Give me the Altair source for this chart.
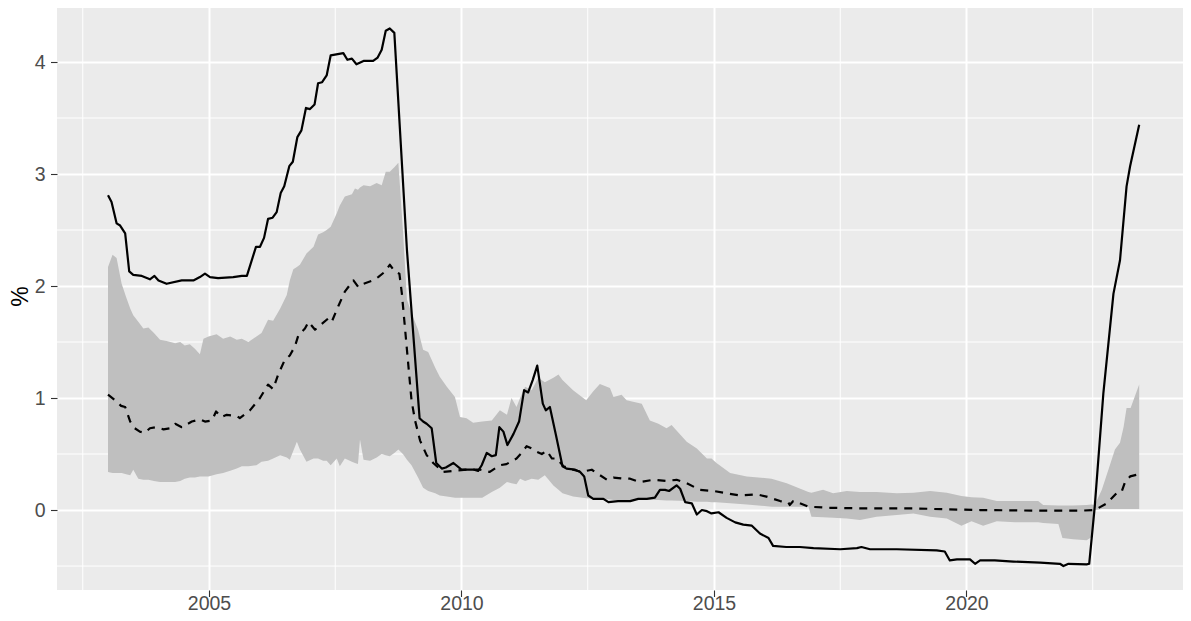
import altair as alt
import pandas as pd

# solid line: overnight rate (%)
solid_year = [
    2003.00, 2003.07, 2003.17, 2003.24, 2003.34, 2003.42, 2003.50, 2003.67, 2003.83, 2003.92,
    2004.00, 2004.16, 2004.46, 2004.69, 2004.82, 2004.92, 2005.02, 2005.18, 2005.48, 2005.65,
    2005.75, 2005.93, 2006.01, 2006.09, 2006.17, 2006.26, 2006.34, 2006.42, 2006.49, 2006.59,
    2006.66, 2006.75, 2006.83, 2006.92, 2007.00, 2007.09, 2007.16, 2007.24, 2007.33, 2007.41,
    2007.66, 2007.74, 2007.83, 2007.92, 2008.06, 2008.25, 2008.34, 2008.42, 2008.50, 2008.58,
    2008.67, 2008.92, 2009.17, 2009.24, 2009.31, 2009.41, 2009.50, 2009.61, 2009.69, 2009.84,
    2010.00, 2010.17, 2010.25, 2010.33, 2010.40, 2010.50, 2010.60, 2010.68, 2010.75, 2010.83,
    2010.91, 2011.03, 2011.14, 2011.24, 2011.32, 2011.41, 2011.50, 2011.61, 2011.67, 2011.75,
    2011.87, 2012.00, 2012.08, 2012.25, 2012.35, 2012.43, 2012.51, 2012.61, 2012.81, 2012.91,
    2013.10, 2013.34, 2013.50, 2013.67, 2013.83, 2013.93, 2014.03, 2014.11, 2014.26, 2014.33,
    2014.43, 2014.56, 2014.66, 2014.76, 2014.86, 2014.95, 2015.09, 2015.25, 2015.42, 2015.58,
    2015.75, 2015.91, 2016.08, 2016.17, 2016.43, 2016.70, 2016.97, 2017.50, 2017.83, 2017.92,
    2018.09, 2018.62, 2019.41, 2019.57, 2019.67, 2019.81, 2020.07, 2020.17, 2020.27, 2020.56,
    2020.93, 2021.46, 2021.85, 2021.92, 2022.02, 2022.38, 2022.43, 2022.54, 2022.71, 2022.91,
    2023.04, 2023.17, 2023.24, 2023.42,
]
solid_value = [
    2.81, 2.75, 2.56, 2.54, 2.47, 2.13, 2.10, 2.09, 2.06, 2.09,
    2.05, 2.02, 2.05, 2.05, 2.08, 2.11, 2.08, 2.07, 2.08, 2.09,
    2.09, 2.35, 2.35, 2.43, 2.60, 2.61, 2.66, 2.83, 2.89, 3.07,
    3.11, 3.33, 3.39, 3.59, 3.58, 3.62, 3.81, 3.82, 3.88, 4.06,
    4.08, 4.02, 4.03, 3.98, 4.01, 4.01, 4.04, 4.11, 4.28, 4.30,
    4.26, 2.32, 0.82, 0.79, 0.77, 0.73, 0.42, 0.37, 0.38, 0.42,
    0.36, 0.36, 0.36, 0.35, 0.40, 0.51, 0.48, 0.49, 0.74, 0.70,
    0.58, 0.68, 0.79, 1.07, 1.05, 1.16, 1.29, 0.95, 0.89, 0.92,
    0.67, 0.39, 0.37, 0.36, 0.34, 0.30, 0.13, 0.10, 0.10, 0.07,
    0.08, 0.08, 0.10, 0.10, 0.11, 0.18, 0.18, 0.17, 0.22, 0.19,
    0.07, 0.06, -0.04, 0.00, -0.01, -0.03, -0.02, -0.07, -0.11, -0.13,
    -0.14, -0.21, -0.25, -0.32, -0.33, -0.33, -0.34, -0.35, -0.34, -0.33,
    -0.35, -0.35, -0.36, -0.37, -0.45, -0.44, -0.44, -0.48, -0.45, -0.45,
    -0.46, -0.47, -0.48, -0.50, -0.48, -0.485, -0.48, 0.03, 1.04, 1.93,
    2.23, 2.89, 3.07, 3.44,
]

# dashed line: median of the distribution
median_year = [
    2003.00, 2003.14, 2003.26, 2003.34, 2003.44, 2003.53, 2003.63, 2003.73, 2003.83, 2003.95,
    2004.10, 2004.23, 2004.33, 2004.46, 2004.66, 2004.82, 2004.92, 2005.06, 2005.14, 2005.25,
    2005.35, 2005.55, 2005.61, 2005.81, 2006.01, 2006.17, 2006.27, 2006.37, 2006.50, 2006.60,
    2006.70, 2006.77, 2006.90, 2006.97, 2007.10, 2007.23, 2007.36, 2007.43, 2007.56, 2007.69,
    2007.79, 2007.86, 2007.96, 2008.06, 2008.25, 2008.35, 2008.49, 2008.58, 2008.68, 2008.77,
    2008.82, 2008.92, 2009.01, 2009.08, 2009.18, 2009.31, 2009.44, 2009.64, 2009.84, 2010.10,
    2010.37, 2010.56, 2010.76, 2010.89, 2011.09, 2011.19, 2011.29, 2011.39, 2011.49, 2011.59,
    2011.69, 2011.79, 2011.89, 2012.02, 2012.21, 2012.38, 2012.58, 2012.68, 2012.88, 2013.01,
    2013.20, 2013.34, 2013.53, 2013.80, 2014.06, 2014.26, 2014.46, 2014.72, 2014.99, 2015.25,
    2015.51, 2015.85, 2016.04, 2016.31, 2016.47, 2016.50, 2016.57, 2016.70, 2016.87, 2017.30,
    2017.96, 2018.95, 2019.61, 2020.27, 2021.59, 2022.25, 2022.54, 2022.78, 2022.97, 2023.07,
    2023.14, 2023.24, 2023.42,
]
median_value = [
    1.03, 0.98, 0.93, 0.92, 0.79, 0.73, 0.70, 0.69, 0.73, 0.74,
    0.72, 0.73, 0.77, 0.74, 0.79, 0.81, 0.79, 0.80, 0.88, 0.83,
    0.85, 0.84, 0.82, 0.89, 1.00, 1.12, 1.08, 1.21, 1.34, 1.38,
    1.46, 1.56, 1.62, 1.68, 1.61, 1.66, 1.71, 1.68, 1.82, 1.95,
    2.01, 2.05, 1.99, 2.02, 2.05, 2.08, 2.13, 2.19, 2.13, 2.11,
    1.93, 1.43, 0.98, 0.80, 0.62, 0.49, 0.42, 0.34, 0.35, 0.36,
    0.36, 0.34, 0.40, 0.41, 0.46, 0.51, 0.57, 0.55, 0.52, 0.50,
    0.53, 0.46, 0.46, 0.39, 0.36, 0.34, 0.36, 0.33, 0.27, 0.29,
    0.28, 0.28, 0.25, 0.27, 0.26, 0.27, 0.24, 0.18, 0.17, 0.15,
    0.13, 0.14, 0.12, 0.08, 0.07, 0.045, 0.08, 0.06, 0.03, 0.02,
    0.015, 0.015, 0.006, 0.0, -0.006, -0.006, 0.0, 0.06, 0.15, 0.16,
    0.25, 0.30, 0.32,
]

# grey band: range of the distribution
band_year = [
    2003.00, 2003.09, 2003.17, 2003.27, 2003.36, 2003.44, 2003.50, 2003.60, 2003.70, 2003.80,
    2003.91, 2004.03, 2004.16, 2004.33, 2004.43, 2004.52, 2004.62, 2004.72, 2004.82, 2004.89,
    2004.99, 2005.15, 2005.28, 2005.42, 2005.55, 2005.65, 2005.78, 2005.94, 2006.04, 2006.17,
    2006.27, 2006.41, 2006.54, 2006.60, 2006.67, 2006.74, 2006.80, 2006.93, 2007.07, 2007.16,
    2007.26, 2007.33, 2007.41, 2007.53, 2007.59, 2007.69, 2007.83, 2007.89, 2007.95, 2007.99,
    2008.06, 2008.19, 2008.32, 2008.42, 2008.50, 2008.58, 2008.67, 2008.75, 2008.84, 2008.92,
    2009.01, 2009.14, 2009.24, 2009.34, 2009.48, 2009.57, 2009.71, 2009.87, 2009.97, 2010.10,
    2010.23, 2010.41, 2010.60, 2010.76, 2010.90, 2010.99, 2011.09, 2011.16, 2011.26, 2011.39,
    2011.52, 2011.65, 2011.82, 2011.92, 2012.00, 2012.21, 2012.47, 2012.61, 2012.74, 2012.94,
    2013.01, 2013.17, 2013.27, 2013.57, 2013.73, 2013.90, 2014.06, 2014.16, 2014.46, 2014.66,
    2014.86, 2014.95, 2015.05, 2015.32, 2015.65, 2016.14, 2016.44, 2016.87, 2016.93, 2017.16,
    2017.36, 2017.63, 2017.89, 2018.22, 2018.62, 2018.95, 2019.28, 2019.61, 2019.90, 2020.10,
    2020.33, 2020.60, 2020.96, 2021.42, 2021.52, 2021.82, 2021.90, 2022.11, 2022.38, 2022.48,
    2022.54, 2022.68, 2022.81, 2022.94, 2023.04, 2023.11, 2023.17, 2023.25, 2023.42,
]
band_hi = [
    2.17, 2.28, 2.25, 2.02, 1.90, 1.80, 1.74, 1.68, 1.62, 1.63,
    1.58, 1.52, 1.51, 1.49, 1.50, 1.47, 1.48, 1.44, 1.39, 1.53,
    1.55, 1.57, 1.53, 1.55, 1.52, 1.53, 1.50, 1.55, 1.58, 1.70,
    1.69, 1.80, 1.92, 2.05, 2.15, 2.17, 2.19, 2.29, 2.35, 2.46,
    2.48, 2.50, 2.53, 2.65, 2.72, 2.80, 2.82, 2.87, 2.86, 2.88,
    2.90, 2.89, 2.92, 2.90, 3.02, 3.02, 3.06, 3.10, 2.50, 1.88,
    1.76, 1.61, 1.43, 1.41, 1.27, 1.19, 1.10, 1.01, 0.83, 0.82,
    0.78, 0.79, 0.80, 0.89, 0.85, 1.00, 0.92, 1.00, 1.10, 1.07,
    1.18, 1.14, 1.18, 1.21, 1.16, 1.07, 0.98, 1.06, 1.125, 1.09,
    1.01, 1.03, 0.98, 0.95, 0.80, 0.77, 0.73, 0.76, 0.61, 0.55,
    0.46, 0.46, 0.42, 0.33, 0.30, 0.28, 0.24, 0.16, 0.155, 0.18,
    0.15, 0.17, 0.16, 0.16, 0.15, 0.155, 0.17, 0.155, 0.125, 0.115,
    0.11, 0.08, 0.08, 0.08, 0.045, 0.04, 0.04, 0.04, 0.045, 0.05,
    0.045, 0.18, 0.36, 0.54, 0.60, 0.74, 0.91, 0.91, 1.12,
]
band_lo = [
    0.34, 0.33, 0.33, 0.33, 0.32, 0.31, 0.36, 0.28, 0.27, 0.27,
    0.26, 0.25, 0.25, 0.25, 0.26, 0.28, 0.29, 0.29, 0.30, 0.30,
    0.30, 0.32, 0.33, 0.35, 0.37, 0.39, 0.39, 0.40, 0.43, 0.44,
    0.46, 0.49, 0.47, 0.45, 0.53, 0.61, 0.54, 0.43, 0.46, 0.46,
    0.44, 0.44, 0.40, 0.46, 0.39, 0.46, 0.43, 0.42, 0.41, 0.63,
    0.45, 0.44, 0.47, 0.50, 0.49, 0.48, 0.51, 0.54, 0.50, 0.45,
    0.40, 0.29, 0.20, 0.17, 0.15, 0.13, 0.12, 0.11, 0.11, 0.11,
    0.11, 0.11, 0.16, 0.20, 0.25, 0.24, 0.23, 0.28, 0.26, 0.28,
    0.27, 0.31, 0.22, 0.18, 0.15, 0.12, 0.105, 0.10, 0.10, 0.095,
    0.09, 0.09, 0.09, 0.09, 0.09, 0.09, 0.085, 0.085, 0.08, 0.075,
    0.075, 0.07, 0.07, 0.06, 0.05, 0.03, 0.03, 0.03, -0.06, -0.065,
    -0.07, -0.075, -0.09, -0.06, -0.045, -0.03, -0.06, -0.075, -0.14, -0.10,
    -0.14, -0.10, -0.11, -0.11, -0.115, -0.125, -0.25, -0.26, -0.27, -0.24,
    0.00, 0.01, 0.01, 0.01, 0.01, 0.01, 0.01, 0.01, 0.01,
]

x_ticks = [2005, 2010, 2015, 2020]
y_ticks = [0, 1, 2, 3, 4]
x_minor = [2002.5, 2007.5, 2012.5, 2017.5, 2022.5]
y_minor = [-0.5, 0.5, 1.5, 2.5, 3.5, 4.5]

solid = pd.DataFrame({"year": solid_year, "value": solid_value})
median = pd.DataFrame({"year": median_year, "value": median_value})
band = pd.DataFrame({"year": band_year, "lo": band_lo, "hi": band_hi})

FONT = "Liberation Sans"
x_scale = alt.Scale(domain=[2001.99, 2024.446], nice=False, zero=False)
y_scale = alt.Scale(domain=[-0.714, 4.527], nice=False, zero=False)

# same axis objects on every layer so the layers merge into one axis each
x_axis = alt.Axis(
    values=x_ticks,
    format="d",
    title=None,
    grid=True,
    gridColor="white",
    gridWidth=2,
    domain=False,
    tickColor="#333333",
    tickWidth=1.1,
    tickSize=6.5,
    labelColor="#4D4D4D",
    labelFont=FONT,
    labelFontSize=19.5,
    labelBaseline="alphabetic",
    labelPadding=12.5,
)
y_axis = alt.Axis(
    values=y_ticks,
    format="d",
    title="%",
    titleFont=FONT,
    titleFontSize=23,
    titleFontWeight="normal",
    titleColor="black",
    titleAngle=270,
    titleAlign="center",
    titleBaseline="middle",
    titleX=-37,
    titleY=293,
    grid=True,
    gridColor="white",
    gridWidth=2,
    domain=False,
    tickColor="#333333",
    tickWidth=1.1,
    tickSize=6.5,
    labelColor="#4D4D4D",
    labelFont=FONT,
    labelFontSize=19.5,
    labelPadding=5.5,
)

minor_v = (
    alt.Chart(pd.DataFrame({"year": x_minor}))
    .mark_rule(color="white", strokeWidth=1)
    .encode(x=alt.X("year:Q", scale=x_scale, axis=x_axis))
)
minor_h = (
    alt.Chart(pd.DataFrame({"value": y_minor}))
    .mark_rule(color="white", strokeWidth=1)
    .encode(y=alt.Y("value:Q", scale=y_scale, axis=y_axis))
)

area = (
    alt.Chart(band)
    .mark_area(color="#BFBFBF", opacity=1)
    .encode(
        x=alt.X("year:Q", scale=x_scale, axis=x_axis),
        y=alt.Y("lo:Q", scale=y_scale, axis=y_axis),
        y2="hi:Q",
    )
)

dashed = (
    alt.Chart(median)
    .mark_line(color="black", strokeWidth=2.2, strokeDash=[8, 7], strokeJoin="round")
    .encode(
        x=alt.X("year:Q", scale=x_scale, axis=x_axis),
        y=alt.Y("value:Q", scale=y_scale, axis=y_axis),
    )
)

line = (
    alt.Chart(solid)
    .mark_line(color="black", strokeWidth=2.2, strokeJoin="round")
    .encode(
        x=alt.X("year:Q", scale=x_scale, axis=x_axis),
        y=alt.Y("value:Q", scale=y_scale, axis=y_axis),
    )
)

chart = (
    alt.layer(minor_v, minor_h, area, dashed, line)
    .properties(
        width=1134,
        height=587,
        autosize=alt.AutoSizeParams(type="none"),
        padding={"left": 49, "top": -5, "right": -8, "bottom": 23},
        background="white",
    )
    .configure_view(fill="#EBEBEB", strokeWidth=0)
)

chart.save("out.html", embed_options={"renderer": "svg", "actions": False})
